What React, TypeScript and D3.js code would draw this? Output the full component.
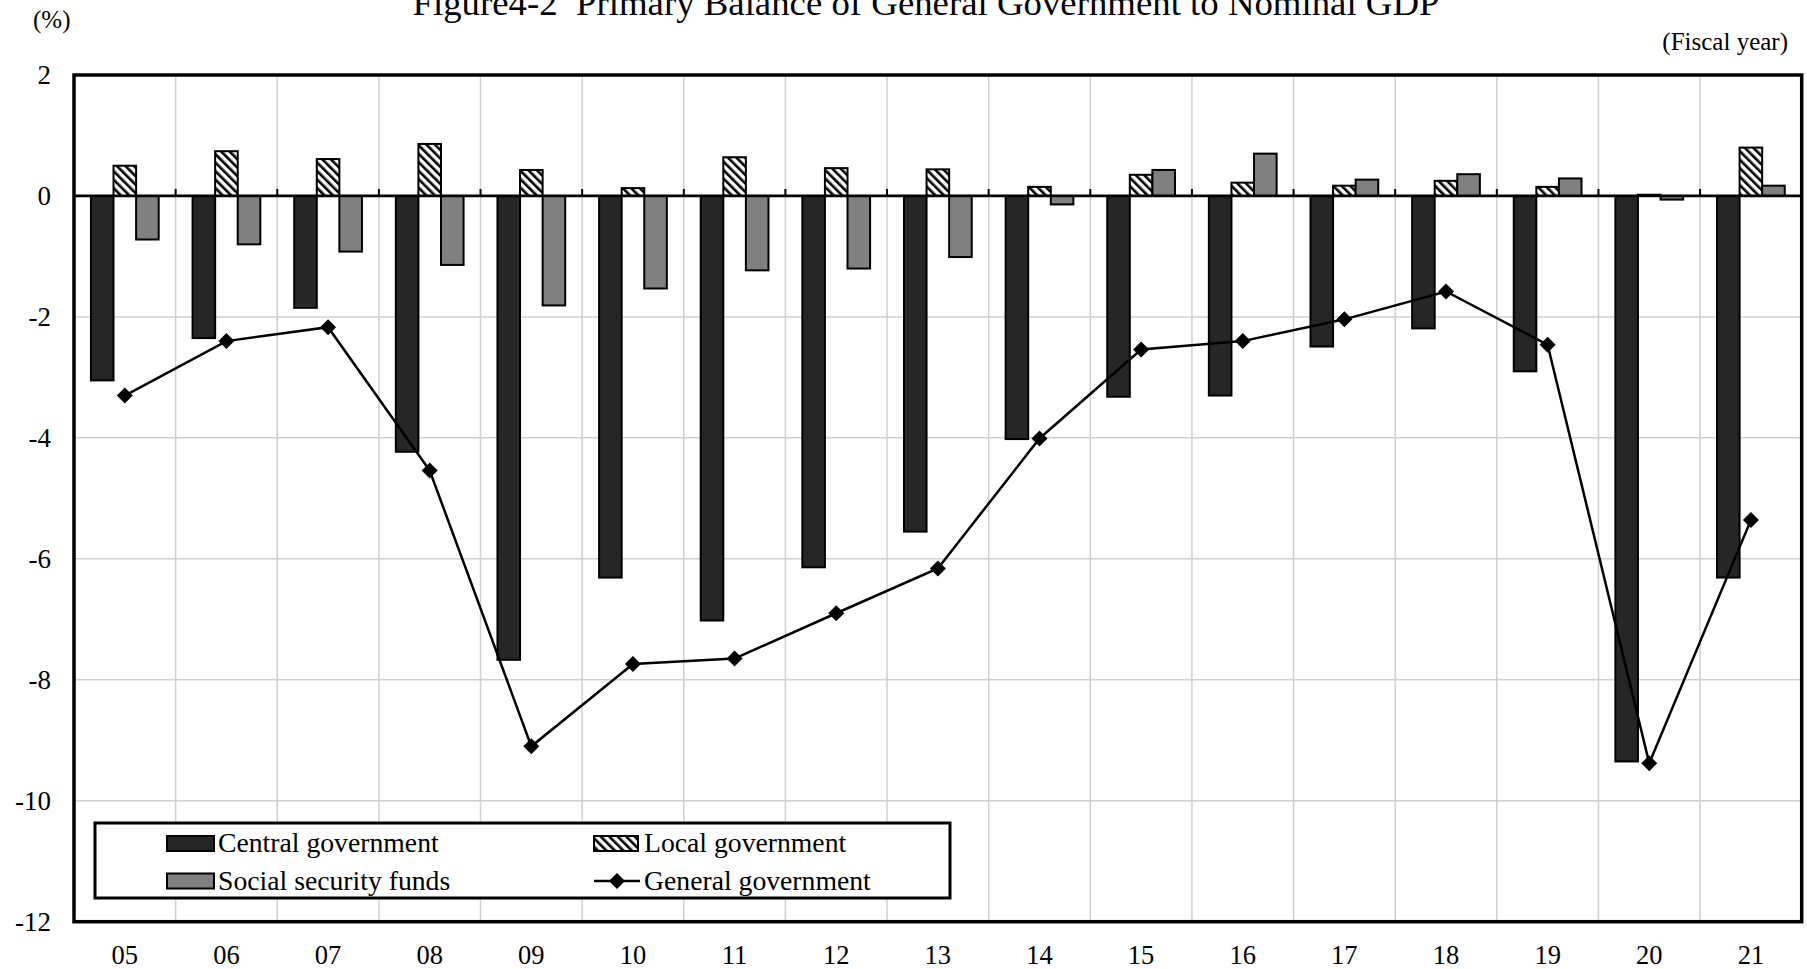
import React from "react";
import * as d3 from "d3";

const categories = ["05","06","07","08","09","10","11","12","13","14","15","16","17","18","19","20","21"];
const centralGov = [-3.05,-2.35,-1.85,-4.23,-7.67,-6.31,-7.02,-6.14,-5.55,-4.02,-3.32,-3.30,-2.49,-2.19,-2.90,-9.35,-6.31];
const localGov = [0.50,0.74,0.61,0.86,0.43,0.13,0.64,0.46,0.44,0.15,0.35,0.22,0.17,0.25,0.15,0.02,0.80];
const socialSec = [-0.72,-0.80,-0.92,-1.14,-1.81,-1.53,-1.23,-1.20,-1.01,-0.14,0.43,0.70,0.27,0.36,0.29,-0.06,0.17];
const generalGov = [-3.30,-2.40,-2.17,-4.54,-9.10,-7.74,-7.65,-6.90,-6.16,-4.01,-2.54,-2.40,-2.04,-1.58,-2.46,-9.38,-5.36];
const yTicks = [2,0,-2,-4,-6,-8,-10,-12];
const seriesNames = ["Central government","Local government","Social security funds"];

const W = 1807, H = 969;
const L = 74, R = 1801.7, T = 75, B = 921.7;
const FONT = "'Liberation Serif', 'Times New Roman', serif";

export default function App() {
  const x = d3.scaleBand<string>().domain(categories).range([L, R]).paddingInner(0).paddingOuter(0);
  const y = d3.scaleLinear().domain([-12, 2]).range([B, T]);
  const bw = x.bandwidth();
  const groupW = bw / (1 + 1.5 / 3); // 3 bars, gap = 1.5 bar widths
  const sub = d3.scaleBand<string>().domain(seriesNames).range([-groupW / 2, groupW / 2]).padding(0);
  const barW = sub.bandwidth();
  const series = [
    { name: seriesNames[0], values: centralGov, fill: "#262626" },
    { name: seriesNames[1], values: localGov, fill: "url(#hatch)" },
    { name: seriesNames[2], values: socialSec, fill: "#808080" },
  ];
  const cx = (c: string) => (x(c) as number) + bw / 2;
  const line = d3.line<number>().x((_, i) => cx(categories[i])).y((v) => y(v));
  const boundaries = categories.slice(1).map((c) => x(c) as number);
  const diamond = (px: number, py: number, s: number) =>
    `M${px},${py - s}L${px + s},${py}L${px},${py + s}L${px - s},${py}Z`;

  const lg = { x: 95, y: 823, w: 855, h: 75 };
  const col1 = 167, col2 = 594, row1 = 843.5, row2 = 881;
  const swW = 47, swH = 15;
  const LFS = 27.7;

  return (
    <svg width={W} height={H} style={{ position: "absolute", left: 0, top: 0, background: "#fff" }} fontFamily={FONT}>
      <defs>
        <pattern id="hatch" patternUnits="userSpaceOnUse" width="6" height="6" patternTransform="rotate(-45)">
          <rect x="0" y="0" width="6" height="6" fill="#fff" />
          <rect x="0" y="0" width="2.6" height="6" fill="#000" />
        </pattern>
      </defs>
      <rect x={0} y={0} width={W} height={H} fill="#fff" />
      <text x={926} y={15} fontSize={36.8} textAnchor="middle" fill="#000">
        Figure4-2{"\u00a0\u00a0"}Primary Balance of General Government to Nominal GDP
      </text>
      <text x={33} y={28} fontSize={25} fill="#000">(%)</text>
      <text x={1788} y={50} fontSize={25} textAnchor="end" fill="#000">(Fiscal year)</text>

      {yTicks.filter((t) => t !== 0).map((t) => (
        <line key={"gy" + t} x1={L} x2={R} y1={y(t)} y2={y(t)} stroke="#d0d0d0" strokeWidth={1.5} />
      ))}
      {boundaries.map((bx, i) => (
        <line key={"gx" + i} x1={bx} x2={bx} y1={T} y2={B} stroke="#d0d0d0" strokeWidth={1.5} />
      ))}

      {series.map((s) => (
        <g key={s.name}>
          {s.values.map((v, i) => {
            const bx = cx(categories[i]) + (sub(s.name) as number);
            const y0 = y(0), y1 = y(v);
            return (
              <rect key={i} x={bx} y={Math.min(y0, y1)} width={barW} height={Math.abs(y1 - y0)}
                fill={s.fill} stroke="#000" strokeWidth={2} />
            );
          })}
        </g>
      ))}

      <line x1={L} x2={R} y1={y(0)} y2={y(0)} stroke="#000" strokeWidth={2.8} />
      {boundaries.map((bx, i) => (
        <line key={"tk" + i} x1={bx} x2={bx} y1={y(0)} y2={y(0) - 7} stroke="#000" strokeWidth={2} />
      ))}

      <path d={line(generalGov) as string} fill="none" stroke="#000" strokeWidth={2.5} />
      {generalGov.map((v, i) => (
        <path key={"d" + i} d={diamond(cx(categories[i]), y(v), 8)} fill="#000" />
      ))}

      <rect x={L} y={T} width={R - L} height={B - T} fill="none" stroke="#000" strokeWidth={3.5} />

      {yTicks.map((t) => (
        <text key={"yl" + t} x={51} y={y(t) + 9} fontSize={27} textAnchor="end" fill="#000">{t}</text>
      ))}
      {categories.map((c) => (
        <text key={"xl" + c} x={cx(c)} y={964} fontSize={26.5} textAnchor="middle" fill="#000">{c}</text>
      ))}

      <rect x={lg.x} y={lg.y} width={lg.w} height={lg.h} fill="#fff" stroke="#000" strokeWidth={3} />
      <rect x={col1} y={row1 - swH / 2} width={swW} height={swH} fill="#262626" stroke="#000" strokeWidth={2} />
      <text x={218} y={row1 + 8.5} fontSize={LFS}>Central government</text>
      <rect x={col2} y={row1 - swH / 2} width={swW - 3} height={swH} fill="url(#hatch)" stroke="#000" strokeWidth={2} />
      <text x={644} y={row1 + 8.5} fontSize={LFS}>Local government</text>
      <rect x={col1} y={row2 - swH / 2} width={swW} height={swH} fill="#808080" stroke="#000" strokeWidth={2} />
      <text x={218} y={row2 + 8.5} fontSize={LFS}>Social security funds</text>
      <line x1={col2} x2={col2 + 46} y1={row2} y2={row2} stroke="#000" strokeWidth={2.5} />
      <path d={diamond(col2 + 23, row2, 8)} fill="#000" />
      <text x={644} y={row2 + 8.5} fontSize={LFS}>General government</text>
    </svg>
  );
}
